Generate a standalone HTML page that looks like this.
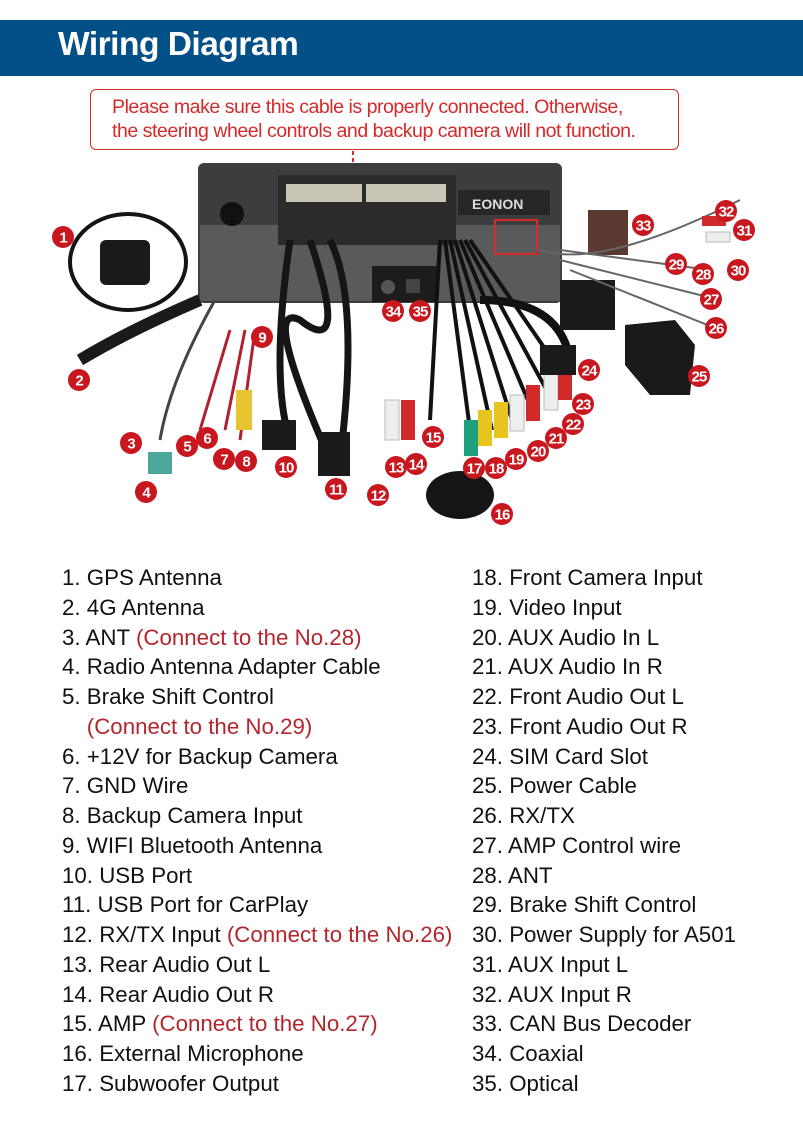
<!DOCTYPE html>
<html><head><meta charset="utf-8"><style>
*{margin:0;padding:0;box-sizing:border-box}
body{width:803px;height:1138px;background:#fff;position:relative;overflow:hidden;font-family:"Liberation Sans",sans-serif}
.hdr{position:absolute;left:0;top:20px;width:803px;height:56px;background:#034f87}
.hdr span{position:absolute;left:58px;top:6px;color:#fff;font-weight:bold;font-size:33.5px;letter-spacing:-0.5px}
.note{position:absolute;left:90px;top:89px;width:589px;height:61px;border:1.5px solid #d42a2a;border-radius:6px;color:#d42a2a;font-size:19.6px;line-height:24px;padding:5px 0 0 21px;letter-spacing:-0.5px;white-space:nowrap}
.l{position:absolute;font-size:22.3px;color:#111;white-space:nowrap;line-height:29.75px}
.r{color:#b3262c}
svg{position:absolute;left:0;top:0}
</style></head><body>
<div class="hdr"><span>Wiring Diagram</span></div>
<div class="note">Please make sure this cable is properly connected. Otherwise,<br>the steering wheel controls and backup camera will not function.</div>
<svg width="803" height="560">
<line x1="353" y1="151" x2="353" y2="180" stroke="#d42a2a" stroke-width="2" stroke-dasharray="4,3"/>
<rect x="198" y="163" width="364" height="140" rx="6" fill="#3d3d3f"/>
<rect x="200" y="225" width="360" height="76" fill="#5a5a5c"/>
<rect x="278" y="175" width="178" height="70" fill="#2b2b2c"/>
<rect x="286" y="184" width="76" height="18" fill="#c9c6b8"/>
<rect x="366" y="184" width="80" height="18" fill="#c9c6b8"/>
<rect x="458" y="190" width="92" height="25" fill="#262626"/>
<text x="472" y="209" font-size="14" font-weight="bold" fill="#ddd" font-family="Liberation Sans">EONON</text>
<circle cx="232" cy="214" r="12" fill="#111"/>
<rect x="372" y="266" width="66" height="36" fill="#1c1c1c"/>
<circle cx="388" cy="287" r="7" fill="#555"/><rect x="406" y="279" width="14" height="14" fill="#444"/>
<rect x="495" y="220" width="42" height="34" fill="none" stroke="#d42a2a" stroke-width="2"/>
<ellipse cx="128" cy="262" rx="58" ry="48" fill="none" stroke="#151515" stroke-width="4"/>
<rect x="100" y="240" width="50" height="45" rx="6" fill="#1a1a1a"/>
<path d="M80,360 Q130,330 200,300" stroke="#1a1a1a" stroke-width="12" fill="none"/>
<path d="M160,440 Q170,380 215,300" stroke="#444" stroke-width="3" fill="none"/>
<rect x="148" y="452" width="24" height="22" fill="#4aa79a"/>
<path d="M200,430 L230,330 M225,430 L245,330 M240,440 L255,330" stroke="#b02030" stroke-width="3" fill="none"/>
<rect x="236" y="390" width="16" height="40" fill="#e6c630"/>
<path d="M290,240 Q270,380 290,440 M310,240 Q350,360 300,320 Q260,300 330,460 M330,240 Q360,300 340,460" stroke="#151515" stroke-width="7" fill="none"/>
<rect x="262" y="420" width="34" height="30" fill="#1a1a1a"/>
<rect x="318" y="432" width="32" height="44" fill="#1a1a1a"/>
<rect x="385" y="400" width="14" height="40" fill="#eee" stroke="#bbb"/>
<rect x="401" y="400" width="14" height="40" fill="#d22a2a"/>
<path d="M440,240 L430,420 M445,240 L470,430 M450,240 L492,430 M455,240 L512,420 M460,240 L532,410 M465,240 L552,400 M470,240 L570,385" stroke="#111" stroke-width="4" fill="none"/>
<rect x="464" y="420" width="14" height="36" fill="#1ea07e"/>
<rect x="478" y="410" width="14" height="36" fill="#e8c41f"/>
<rect x="494" y="402" width="14" height="36" fill="#e8c41f"/>
<rect x="510" y="395" width="14" height="36" fill="#eee" stroke="#bbb"/>
<rect x="526" y="385" width="14" height="36" fill="#d22a2a"/>
<rect x="544" y="374" width="14" height="36" fill="#eee" stroke="#bbb"/>
<rect x="558" y="364" width="14" height="36" fill="#d22a2a"/>
<ellipse cx="460" cy="495" rx="34" ry="24" fill="#151515"/>
<path d="M480,300 Q560,300 570,360" stroke="#111" stroke-width="8" fill="none"/>
<rect x="540" y="345" width="36" height="30" fill="#1a1a1a"/>
<rect x="588" y="210" width="40" height="45" fill="#5a3a30"/>
<rect x="560" y="280" width="55" height="50" fill="#1a1a1a"/>
<path d="M625,325 L675,320 L695,345 L690,395 L650,395 L625,365 Z" fill="#1a1a1a"/>
<path d="M540,250 Q600,270 740,200 M560,260 L720,300 M570,270 L720,330 M560,250 L710,270" stroke="#666" stroke-width="2" fill="none"/>
<rect x="702" y="216" width="24" height="10" fill="#d22a2a"/><rect x="706" y="232" width="24" height="10" fill="#eee" stroke="#bbb"/>
</svg>
<svg width="803" height="560" id="badges"></svg>
<script>
var p=[[1,63,237],[2,79,380],[3,131,443],[4,146,492],[5,187,446],[6,207,438],[7,224,459],[8,246,461],[9,262,337],[10,286,467],[11,336,489],[12,378,495],[13,396,467],[14,416,464],[15,433,437],[16,502,514],[17,474,468],[18,496,468],[19,516,459],[20,538,451],[21,556,438],[22,573,424],[23,583,404],[24,589,370],[25,699,376],[26,716,328],[27,711,299],[28,703,274],[29,676,264],[30,738,270],[31,744,230],[32,726,211],[33,643,225],[34,393,311],[35,420,311]];
var s='';p.forEach(function(a){s+='<circle cx="'+a[1]+'" cy="'+a[2]+'" r="11" fill="#c8171e"/><text x="'+a[1]+'" y="'+(a[2]+5.5)+'" font-family="Liberation Sans" font-weight="bold" font-size="15" fill="#fff" text-anchor="middle" letter-spacing="-1">'+a[0]+'</text>';});
document.getElementById('badges').innerHTML=s;
</script>
<div class="l" style="left:62px;top:563px">1. GPS Antenna<br>2. 4G Antenna<br>3. ANT <span class="r">(Connect to the No.28)</span><br>4. Radio Antenna Adapter Cable<br>5. Brake Shift Control<br>&nbsp;&nbsp;&nbsp;&nbsp;<span class="r">(Connect to the No.29)</span><br>6. +12V for Backup Camera<br>7. GND Wire<br>8. Backup Camera Input<br>9. WIFI Bluetooth Antenna<br>10. USB Port<br>11. USB Port for CarPlay<br>12. RX/TX Input <span class="r">(Connect to the No.26)</span><br>13. Rear Audio Out L<br>14. Rear Audio Out R<br>15. AMP <span class="r">(Connect to the No.27)</span><br>16. External Microphone<br>17. Subwoofer Output</div>
<div class="l" style="left:472px;top:563px">18. Front Camera Input<br>19. Video Input<br>20. AUX Audio In L<br>21. AUX Audio In R<br>22. Front Audio Out L<br>23. Front Audio Out R<br>24. SIM Card Slot<br>25. Power Cable<br>26. RX/TX<br>27. AMP Control wire<br>28. ANT<br>29. Brake Shift Control<br>30. Power Supply for A501<br>31. AUX Input L<br>32. AUX Input R<br>33. CAN Bus Decoder<br>34. Coaxial<br>35. Optical</div>
</body></html>
